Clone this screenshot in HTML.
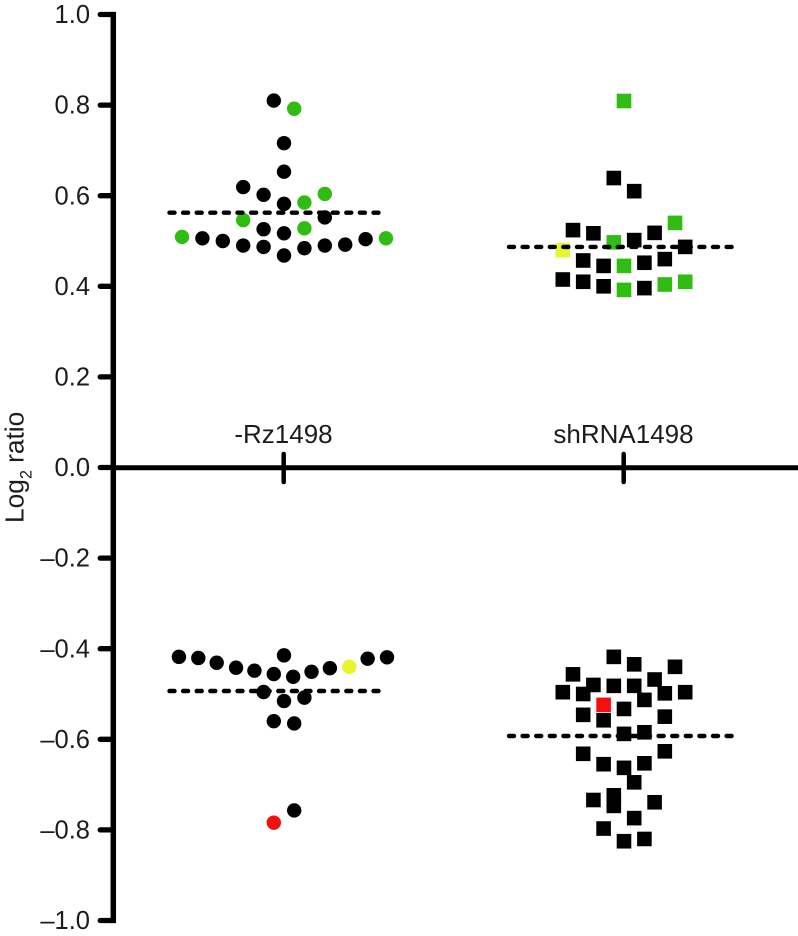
<!DOCTYPE html>
<html lang="en">
<head>
<meta charset="utf-8">
<title>Log2 ratio dot plot</title>
<style>
html,body{margin:0;padding:0;background:#fff;}
svg{display:block;}
text{font-family:"Liberation Sans",Arial,sans-serif;fill:#1c1c1c;}
</style>
</head>
<body>
<svg id="chart" width="798" height="936" viewBox="0 0 798 936" xmlns="http://www.w3.org/2000/svg">
  <text transform="translate(23.5,523) rotate(-90)" font-size="26.3">Log<tspan font-size="16.5" dy="8">2</tspan><tspan dy="-8" dx="7">ratio</tspan></text>
</svg>
<script>
// ---- chart data ----
var categories = ['-Rz1498', 'shRNA1498'];
var yTickValues = [1.0, 0.8, 0.6, 0.4, 0.2, 0.0, -0.2, -0.4, -0.6, -0.8, -1.0];
var yTickLabels = ['1.0', '0.8', '0.6', '0.4', '0.2', '0.0', '\u20130.2', '\u20130.4', '\u20130.6', '\u20130.8', '\u20131.0'];

// jitter = beeswarm column index; status: n = neutral, u = up, w = weak, d = down
var rzUpJitter = [-0.5, 0.5, 0, 0, -2, -1, 0, 1, 2, 2, -2, -1, 1, 0, -5, -4, -3, -2, -1, 0, 1, 2, 3, 4, 5];
var rzUpValues = [0.81, 0.792, 0.716, 0.653, 0.619, 0.602, 0.582, 0.585, 0.604, 0.552, 0.546, 0.526, 0.528, 0.517, 0.509, 0.506, 0.5, 0.49, 0.487, 0.468, 0.484, 0.49, 0.492, 0.504, 0.506];
var rzUpStatus = ['n', 'u', 'n', 'n', 'n', 'n', 'n', 'u', 'u', 'n', 'u', 'n', 'u', 'n', 'u', 'n', 'n', 'n', 'n', 'n', 'n', 'n', 'n', 'n', 'u'];
var rzUpMean = 0.5625;

var shUpJitter = [0, -0.5, 0.5, 2.5, -2.5, -1.5, 1.5, -0.5, 0.5, 3, -3, -2, -1, 0, 1, 2, -3, -2, -1, 0, 1, 2, 3];
var shUpValues = [0.809, 0.639, 0.61, 0.54, 0.524, 0.517, 0.518, 0.497, 0.502, 0.487, 0.48, 0.457, 0.445, 0.445, 0.452, 0.46, 0.415, 0.41, 0.4, 0.392, 0.396, 0.404, 0.41];
var shUpStatus = ['u', 'n', 'n', 'u', 'n', 'n', 'n', 'u', 'n', 'n', 'w', 'n', 'n', 'u', 'n', 'n', 'n', 'n', 'n', 'u', 'n', 'u', 'u'];
var shUpMean = 0.487;

var rzDownJitter = [-5.15, -4.2, -3.3, -2.35, -1.45, -0.5, 0.45, 1.35, 2.25, 3.2, 4.1, 5.05, 0, -1, 0, 1, -0.5, 0.5, 0.5, -0.5];
var rzDownValues = [-0.418, -0.4205, -0.431, -0.442, -0.4485, -0.456, -0.462, -0.451, -0.443, -0.44, -0.422, -0.419, -0.4147, -0.4956, -0.5155, -0.508, -0.56, -0.565, -0.757, -0.784];
var rzDownStatus = ['n', 'n', 'n', 'n', 'n', 'n', 'n', 'n', 'n', 'w', 'n', 'n', 'n', 'n', 'n', 'n', 'n', 'n', 'n', 'd'];
var rzDownMean = -0.4934;

var shDownJitter = [-0.5, 0.5, 2.5, -2.5, 1.5, -1.5, -0.5, 0.5, -3, -2, 2, 3, 1, -1, 0, -2, 2, -1, 0, 1, 2, -2, -1, 1, 0, 0.5, -0.5, -0.5, -1.5, 1.5, 0.5, -1, 0, 1];
var shDownValues = [-0.418, -0.4345, -0.44, -0.4566, -0.468, -0.48, -0.482, -0.482, -0.496, -0.5, -0.4985, -0.496, -0.513, -0.524, -0.533, -0.546, -0.55, -0.558, -0.588, -0.5845, -0.6265, -0.632, -0.655, -0.653, -0.663, -0.695, -0.7236, -0.747, -0.734, -0.739, -0.774, -0.797, -0.825, -0.82];
var shDownStatus = ['n', 'n', 'n', 'n', 'n', 'n', 'n', 'n', 'n', 'n', 'n', 'n', 'n', 'd', 'n', 'n', 'n', 'n', 'n', 'n', 'n', 'n', 'n', 'n', 'n', 'n', 'n', 'n', 'n', 'n', 'n', 'n', 'n', 'n'];
var shDownMean = -0.5927;

// ---- scales and styles ----
var NS = 'http://www.w3.org/2000/svg';
var svg = document.getElementById('chart');
var statusColor = { n: '#000000', u: '#2fbd12', w: '#e6f52c', d: '#f50f0f' };

function yScale(v) { return 467.5 - v * 453; }
function groupCenter(i) { return 284 + i * 340; }
function xScale(groupIndex, jitter) { return groupCenter(groupIndex) + jitter * 20.4; }

function make(tag, attrs) {
  var el = document.createElementNS(NS, tag);
  for (var k in attrs) { el.setAttribute(k, attrs[k]); }
  return el;
}

// ---- axes ----
var yAxis = make('line', { x1: 113.3, x2: 113.3, y1: yScale(1) - 2.6, y2: yScale(-1) + 2.6, stroke: '#000', 'stroke-width': 5.5 });


svg.appendChild(yAxis);

var xAxis = make('line', { x1: 113, x2: 798, y1: yScale(0) + 0.3, y2: yScale(0) + 0.3, stroke: '#000', 'stroke-width': 5 });


svg.appendChild(xAxis);

yTickValues.forEach(function (v, i) {
  var tick = make('line', { x1: 100.2, x2: 113, y1: yScale(v), y2: yScale(v), stroke: '#000', 'stroke-width': 5.3, 'stroke-linecap': 'round' });
  
  
  svg.appendChild(tick);

  var label = make('text', { x: 90, y: yScale(v) + 8.6, 'text-anchor': 'end', 'font-size': 25.5 });
  
  
  label.textContent = yTickLabels[i];
  svg.appendChild(label);
});

categories.forEach(function (name, i) {
  var cx = groupCenter(i);
  var tick = make('line', { x1: cx - 0.3, x2: cx - 0.3, y1: 454, y2: 482, stroke: '#000', 'stroke-width': 4.5, 'stroke-linecap': 'round' });
  
  
  svg.appendChild(tick);

  var label = make('text', { x: cx - 0.5, y: 443, 'text-anchor': 'middle', 'font-size': 26 });
  
  
  label.textContent = name;
  svg.appendChild(label);
});

// ---- series ----
function drawCircles(groupIndex, jitter, values, status) {
  values.forEach(function (v, i) {
    var dot = make('circle', { cx: xScale(groupIndex, jitter[i]), cy: yScale(v), r: 7.2, fill: statusColor[status[i]] });
    
    
    svg.appendChild(dot);
  });
}

function drawSquares(groupIndex, jitter, values, status) {
  values.forEach(function (v, i) {
    var sq = make('rect', { x: xScale(groupIndex, jitter[i]) - 7.3, y: yScale(v) - 7.3, width: 14.6, height: 14.6, fill: statusColor[status[i]] });
    
    
    svg.appendChild(sq);
  });
}

function drawMean(x1, x2, v) {
  var line = make('line', { x1: x1, x2: x2, y1: yScale(v), y2: yScale(v), stroke: '#000', 'stroke-width': 4.4, 'stroke-dasharray': '5 8.6', 'stroke-linecap': 'round' });
  
  
  svg.appendChild(line);
}

drawCircles(0, rzUpJitter, rzUpValues, rzUpStatus);
drawCircles(0, rzDownJitter, rzDownValues, rzDownStatus);
drawSquares(1, shUpJitter, shUpValues, shUpStatus);
drawSquares(1, shDownJitter, shDownValues, shDownStatus);

drawMean(169.5, 380, rzUpMean);
drawMean(169.5, 380, rzDownMean);
drawMean(509, 735, shUpMean);
drawMean(509, 735, shDownMean);
</script>
</body>
</html>
